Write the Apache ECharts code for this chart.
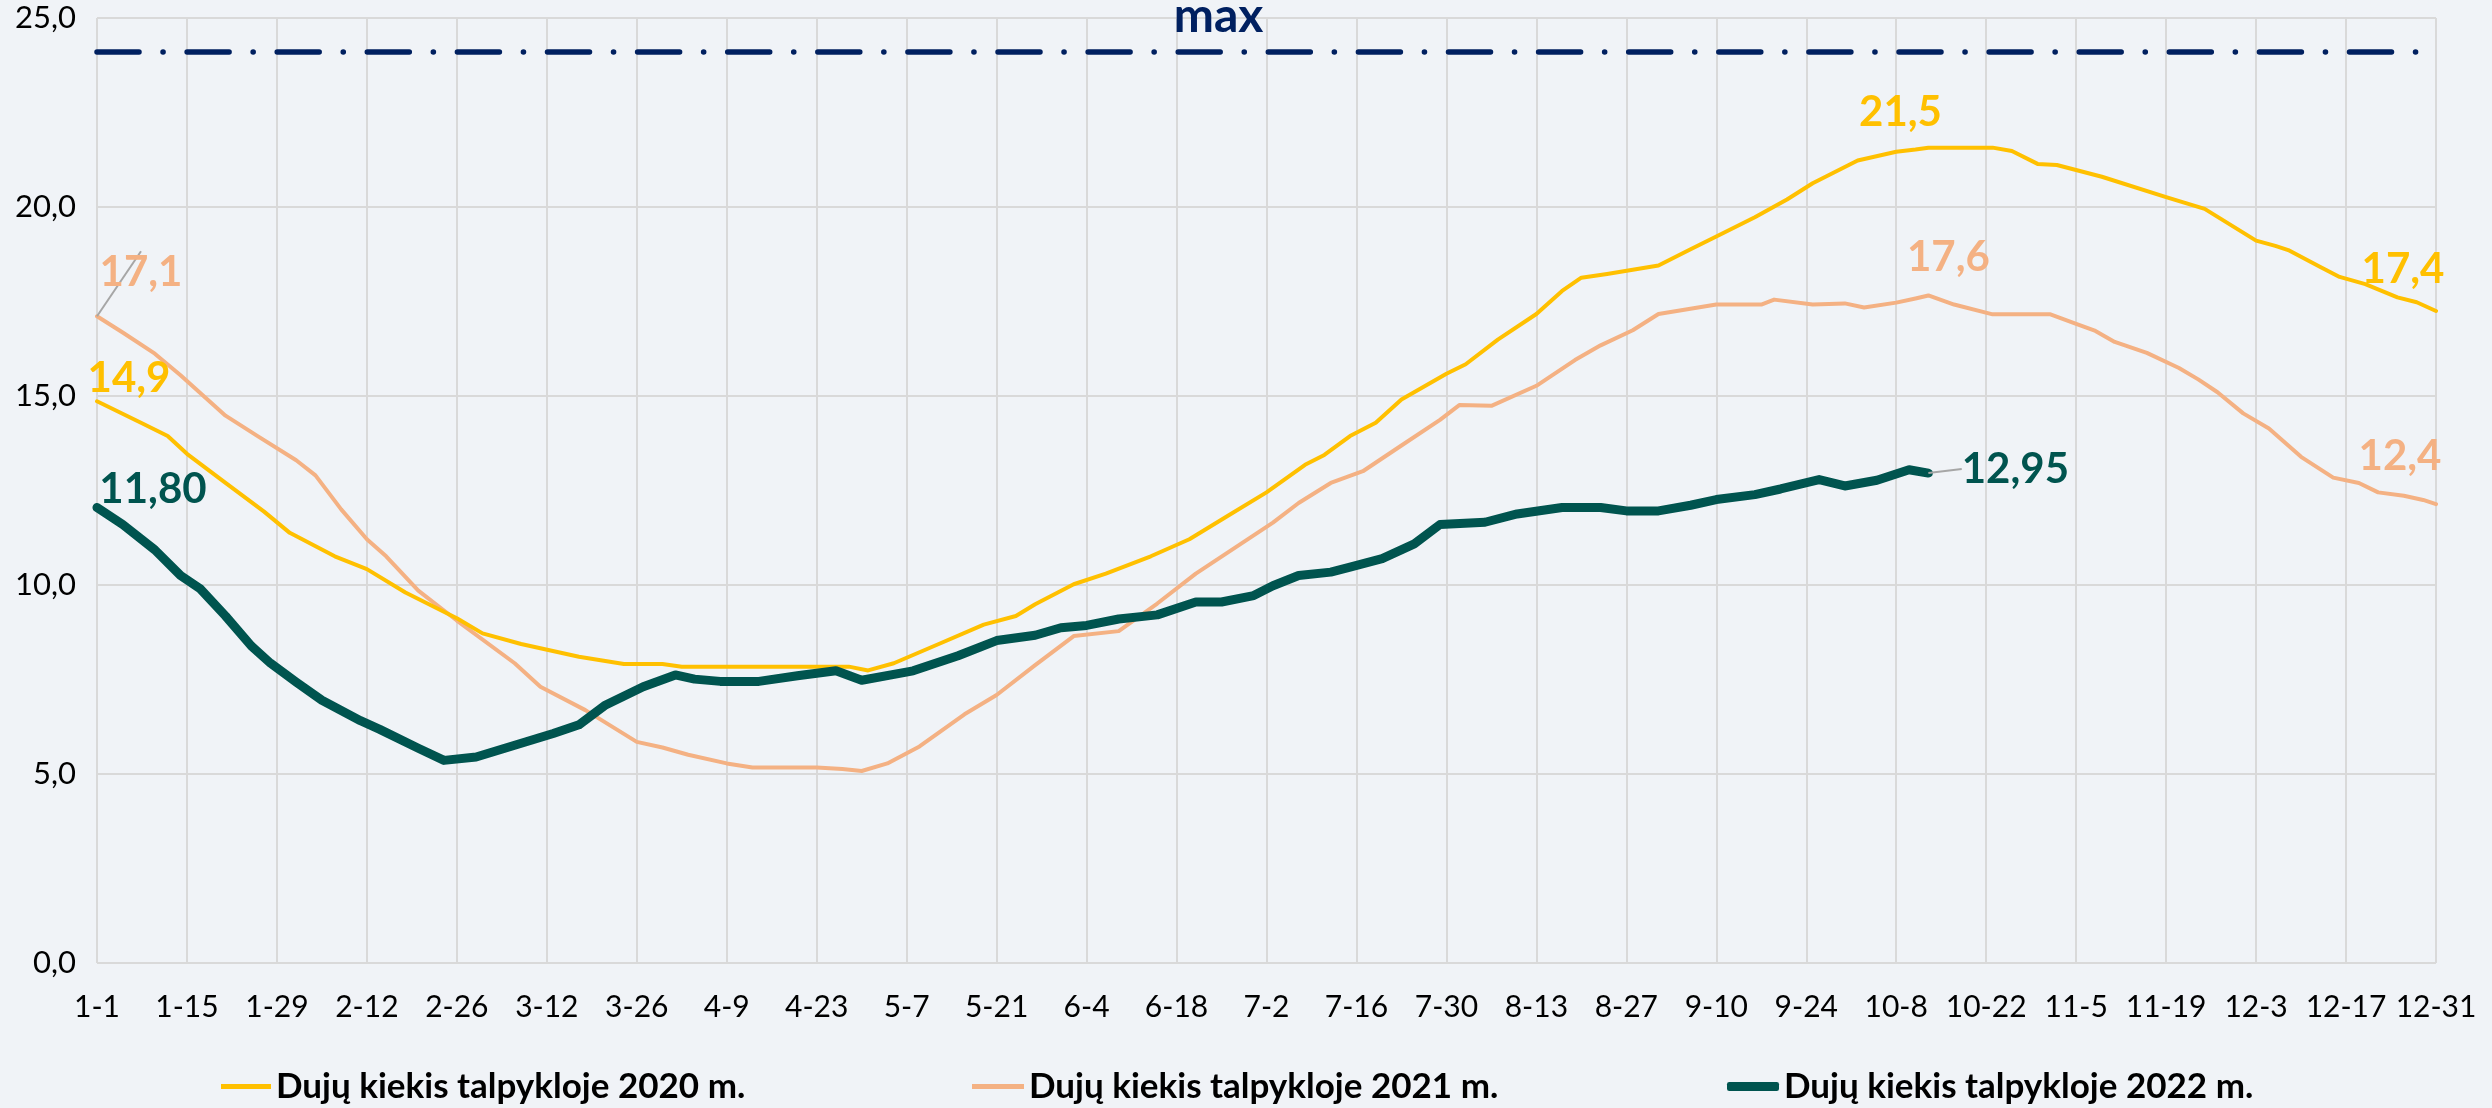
<!DOCTYPE html>
<html>
<head>
<meta charset="utf-8">
<title>Dujų kiekis talpykloje</title>
<script src="https://cdn.jsdelivr.net/npm/echarts/dist/echarts.min.js"></script>
<style>
  html, body { margin: 0; padding: 0; background: #F0F3F7; }
  #chart { width: 2492px; height: 1108px; }
</style>
</head>
<body>
<div id="chart"></div>
<script>
// x = day of year (0 = 1-1), tick every 14 days
var tickLabels = ['1-1','1-15','1-29','2-12','2-26','3-12','3-26','4-9','4-23','5-7','5-21','6-4','6-18',
  '7-2','7-16','7-30','8-13','8-27','9-10','9-24','10-8','10-22','11-5','11-19','12-3','12-17','12-31'];

var maxLevel = 24.1;

var day2020 = [0,7,11,14,20,26,30,37,42,48,56,60,66,75,82,88,91,117,120,124,131,138,143,146,152,157,164,170,176,182,
  188,191,195,199,203,210,213,218,224,228,231,235,239,243,248,252,258,263,267,274,280,283,285,295,298,302,305,312,322,
  328,336,339,341,346,349,353,358,361,364];
var gas2020 = [14.86,14.28,13.94,13.47,12.70,11.94,11.38,10.76,10.42,9.80,9.12,8.72,8.44,8.10,7.91,7.91,7.84,7.84,7.74,7.93,
  8.44,8.95,9.18,9.49,10.02,10.30,10.76,11.21,11.83,12.45,13.18,13.44,13.94,14.29,14.91,15.59,15.84,16.49,17.17,17.78,
  18.13,18.23,18.34,18.45,18.88,19.22,19.73,20.20,20.63,21.23,21.46,21.52,21.57,21.57,21.48,21.14,21.11,20.80,20.26,
  19.95,19.11,18.97,18.86,18.41,18.15,17.96,17.61,17.48,17.25];

var day2021 = [0,4,9,13,20,25,31,34,38,42,45,50,56,65,69,76,84,88,92,98,102,112,116,119,123,128,135,140,146,152,159,165,
  171,178,183,187,192,197,203,209,212,217,224,230,234,239,243,252,259,261,267,272,275,280,283,285,289,295,304,308,311,
  314,319,324,327,330,334,338,343,348,352,355,359,362,364];
var gas2021 = [17.11,16.68,16.12,15.55,14.48,13.94,13.30,12.90,12.00,11.21,10.76,9.85,9.06,7.93,7.31,6.69,5.85,5.70,5.51,
  5.28,5.17,5.17,5.13,5.08,5.28,5.73,6.58,7.09,7.88,8.65,8.78,9.51,10.30,11.09,11.65,12.17,12.70,13.01,13.69,14.37,14.76,
  14.74,15.27,15.95,16.34,16.74,17.17,17.42,17.42,17.55,17.42,17.45,17.34,17.47,17.58,17.66,17.42,17.16,17.16,16.91,
  16.72,16.43,16.14,15.74,15.44,15.10,14.54,14.14,13.39,12.84,12.70,12.45,12.36,12.25,12.14];

var day2022 = [0,4,9,13,16,20,24,27,31,35,41,44,50,54,59,65,71,75,79,85,90,93,97,103,109,115,119,127,134,140,146,150,154,
  159,165,171,175,180,183,187,192,195,200,205,209,216,221,228,234,238,243,248,252,258,262,268,272,277,282,285];
var gas2022 = [12.05,11.60,10.93,10.25,9.91,9.18,8.39,7.93,7.43,6.95,6.41,6.18,5.68,5.36,5.45,5.76,6.07,6.30,6.81,7.31,
  7.62,7.51,7.45,7.45,7.60,7.73,7.48,7.73,8.13,8.53,8.67,8.87,8.93,9.10,9.21,9.55,9.55,9.72,9.98,10.25,10.34,10.47,10.70,
  11.09,11.60,11.66,11.88,12.05,12.05,11.96,11.96,12.11,12.26,12.39,12.54,12.79,12.62,12.77,13.05,12.96];

// data labels: [day, text, dx, dy, leader line]
var labels2020 = [[0, '14,9', 32, -23, false], [283, '21,5', -15, -37, false], [364, '17,4', -33, -41, false]];
var labels2021 = [[0, '17,1', 44, -44, true], [285, '17,6', 20, -38, false], [364, '12,4', -36, -48, false]];
var labels2022 = [[0, '11,80', 56, -18, false], [285, '12,95', 87, -4, true]];

var names = ['Dujų kiekis talpykloje 2020 m.', 'Dujų kiekis talpykloje 2021 m.', 'Dujų kiekis talpykloje 2022 m.'];
var colors = ['#FFC000', '#F4B183', '#00544F'];
var font = 'Lato, "Open Sans", sans-serif';

function build(days, vals, labels, color) {
  return days.map(function (d, i) {
    var item = { value: [d, vals[i]] };
    labels.forEach(function (l) {
      if (l[0] === d) {
        item.label = {
          show: true, position: 'inside', formatter: l[1],
          color: color, fontSize: 42, fontWeight: 'bold', fontFamily: font
        };
        item.labelLine = { show: l[4], lineStyle: { color: '#A6A6A6', width: 2 } };
        item._shift = [l[2], l[3]];
      }
    });
    return item;
  });
}

var data2020 = build(day2020, gas2020, labels2020, colors[0]);
var data2021 = build(day2021, gas2021, labels2021, colors[1]);
var data2022 = build(day2022, gas2022, labels2022, colors[2]);

function shifter(data) {
  return function (params) {
    var it = data[params.dataIndex];
    if (it && it._shift) return { dx: it._shift[0], dy: it._shift[1] };
    return {};
  };
}

function lineSeries(name, data, color, width, z) {
  return {
    name: name, type: 'line', data: data, z: z,
    symbol: 'circle', symbolSize: 0, showSymbol: true, showAllSymbol: true,
    lineStyle: { color: color, width: width, cap: 'round', join: 'round' },
    itemStyle: { color: color },
    labelLayout: shifter(data),
    emphasis: { disabled: true }
  };
}

var series = [
  lineSeries(names[0], data2020, colors[0], 4, 3),
  lineSeries(names[1], data2021, colors[1], 4, 2),
  lineSeries(names[2], data2022, colors[2], 9, 4)
];
series[0].markLine = {
  silent: true, symbol: ['none', 'none'],
  data: [{ yAxis: maxLevel }],
  lineStyle: { color: '#002060', width: 5.5, type: [42, 24, 0.1, 24], cap: 'round' },
  label: {
    show: true, formatter: 'max', position: 'insideMiddleTop', distance: 12, offset: [-48, 0],
    color: '#002060', fontSize: 48, fontWeight: 'bold', fontFamily: font, lineHeight: 48
  }
};

function legendFor(i, left, w, h, icon) {
  return {
    data: [names[i]], left: left, top: 1064, icon: icon, itemWidth: w, itemHeight: h,
    itemStyle: { color: colors[i] }, lineStyle: { width: 0 },
    textStyle: { fontSize: 35, fontWeight: 'bold', color: '#000', fontFamily: font, padding: [0, 0, 0, 0] }
  };
}

var chart = echarts.init(document.getElementById('chart'));
chart.setOption({
  backgroundColor: '#F0F3F7',
  animation: false,
  grid: { left: 97, right: 56, top: 18, bottom: 145, containLabel: false },
  legend: [
    legendFor(0, 216, 50, 5, 'rect'),
    legendFor(1, 967, 52, 5, 'rect'),
    legendFor(2, 1722, 52, 9, 'roundRect')
  ],
  xAxis: {
    type: 'value', min: 0, max: 364, interval: 14,
    axisLine: { show: false }, axisTick: { show: false },
    splitLine: { show: true, lineStyle: { color: '#D9D9D9', width: 2 } },
    axisLabel: {
      formatter: function (v) { return tickLabels[Math.round(v / 14)]; },
      fontSize: 30, color: '#000', margin: 29, fontFamily: font
    }
  },
  yAxis: {
    type: 'value', min: 0, max: 25, interval: 5,
    axisLine: { show: false }, axisTick: { show: false },
    splitLine: { show: true, lineStyle: { color: '#D9D9D9', width: 2 } },
    axisLabel: {
      formatter: function (v) { return v.toFixed(1).replace('.', ','); },
      fontSize: 31, color: '#000', margin: 21, fontFamily: font
    }
  },
  series: series
});
</script>
</body>
</html>
